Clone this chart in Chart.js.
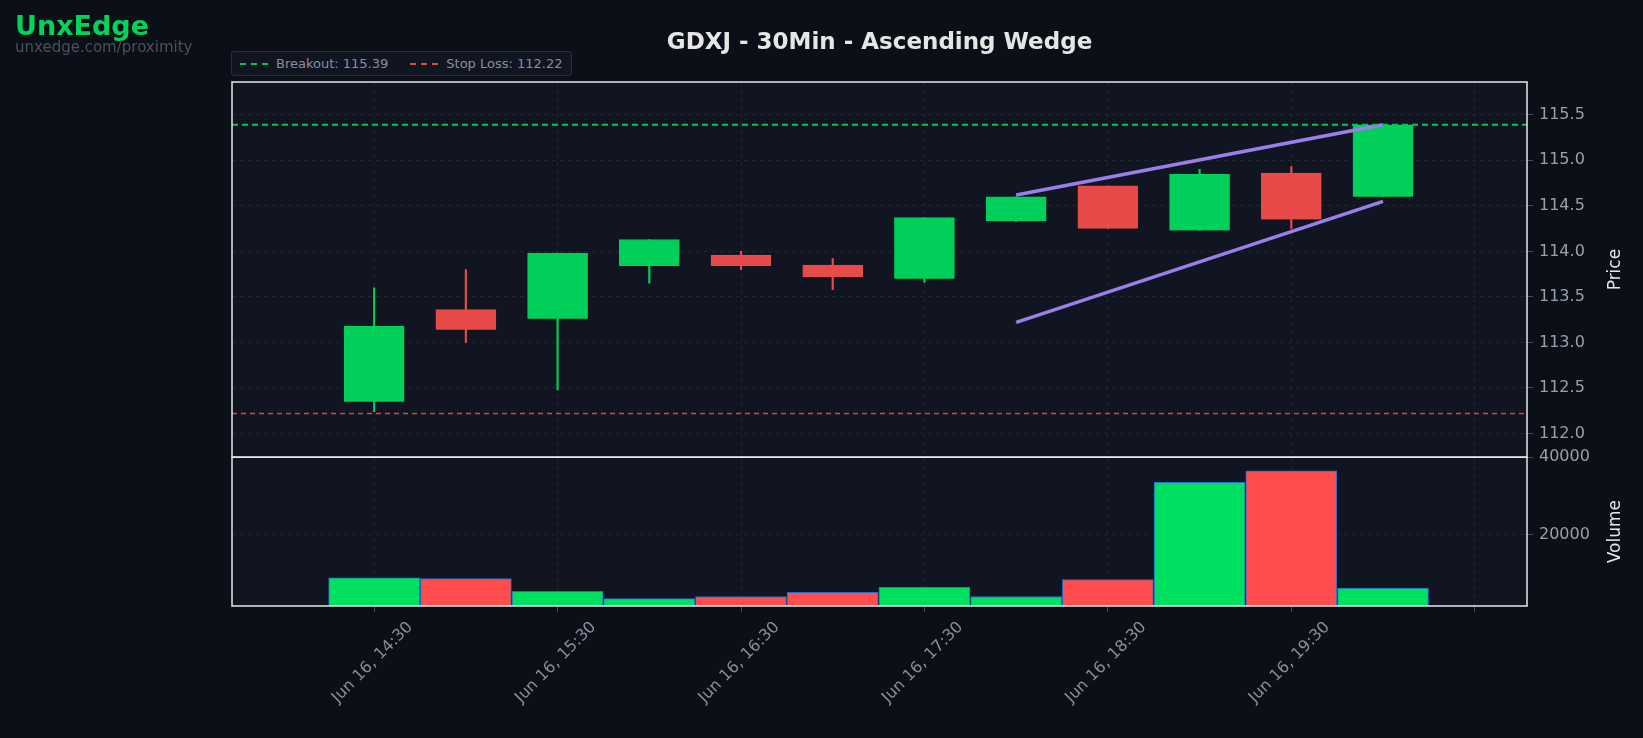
<!DOCTYPE html>
<html>
<head>
<meta charset="utf-8">
<script src="https://cdn.jsdelivr.net/npm/chart.js@4.4.0/dist/chart.umd.min.js"></script>
<style>
  html, body { margin: 0; padding: 0; background: #0b0f18; font-family: "DejaVu Sans", sans-serif; }
  #wrap { position: relative; width: 1643px; height: 738px; }
  #brand { position: absolute; left: 15px; top: 10px; color: #00d45a; font-weight: bold; font-size: 27px; }
  #site { position: absolute; left: 15px; top: 38px; color: #4a505c; font-size: 15px; }
  #title { position: absolute; left: 232px; width: 1295px; top: 28px; text-align: center; color: #e6e6e6; font-weight: bold; font-size: 23px; }
  #legend { position: absolute; left: 231px; top: 51px; background: #111522; border: 1px solid #2a2f3a; border-radius: 3px;
            padding: 4px 8px; color: #8a8f99; font-size: 13px; display: flex; gap: 22px; }
  #legend span { display: inline-flex; align-items: center; gap: 8px; }
  #legend i { display: inline-block; width: 28px; border-top: 2px dashed; }
</style>
</head>
<body>
<div id="wrap">
  <canvas id="Chart" width="1643" height="738"></canvas>
  <div id="brand">UnxEdge</div>
  <div id="site">unxedge.com/proximity</div>
  <div id="title">GDXJ - 30Min - Ascending Wedge</div>
  <div id="legend">
    <span><i style="border-color:#00c853"></i>Breakout: 115.39</span>
    <span><i style="border-color:#e04848"></i>Stop Loss: 112.22</span>
  </div>
</div>
<script>
var times = ['Jun 16, 14:30', 'Jun 16, 15:00', 'Jun 16, 15:30', 'Jun 16, 16:00', 'Jun 16, 16:30', 'Jun 16, 17:00',
             'Jun 16, 17:30', 'Jun 16, 18:00', 'Jun 16, 18:30', 'Jun 16, 19:00', 'Jun 16, 19:30', 'Jun 16, 20:00'];
var opens  = [112.35, 113.36, 113.26, 113.84, 113.96, 113.85, 113.70, 114.33, 114.72, 114.23, 114.86, 114.60];
var closes = [113.18, 113.14, 113.98, 114.13, 113.84, 113.72, 114.37, 114.60, 114.25, 114.85, 114.35, 115.39];
var highs  = [113.60, 113.80, 113.98, 114.13, 114.00, 113.92, 114.37, 114.60, 114.72, 114.90, 114.93, 115.39];
var lows   = [112.24, 113.00, 112.48, 113.65, 113.80, 113.58, 113.66, 114.33, 114.25, 114.23, 114.25, 114.60];
var volumes = [8900, 8650, 5400, 3500, 4050, 5100, 6500, 4050, 8400, 33500, 36500, 6200];
var tickLabels = ['Jun 16, 14:30', 'Jun 16, 15:30', 'Jun 16, 16:30', 'Jun 16, 17:30', 'Jun 16, 18:30', 'Jun 16, 19:30', ''];
var priceTicks = [112.0, 112.5, 113.0, 113.5, 114.0, 114.5, 115.0, 115.5];
var volumeTicks = [20000, 40000];
var breakout = 115.39;
var stopLoss = 112.22;
var upperWedge = [[7, 114.62], [11, 115.39]];
var lowerWedge = [[7, 113.22], [11, 114.55]];

var GREEN = '#00d05a', RED = '#e84a4a';
var X_MIN = -1.55, X_MAX = 12.57;

(function () {
    var idx = opens.map((o, i) => i);
    var candleColor = idx.map((i) => closes[i] >= opens[i] ? GREEN : RED);
    var volColor = idx.map((i) => closes[i] >= opens[i] ? '#00e060' : '#ff4d4d');

    var datasets = [
        {
            type: 'line', data: [{x: X_MIN, y: breakout}, {x: X_MAX, y: breakout}], borderColor: '#00c853',
            borderWidth: 2, borderDash: [6, 4], pointRadius: 0, yAxisID: 'y'
        },
        {
            type: 'line', data: [{x: X_MIN, y: stopLoss}, {x: X_MAX, y: stopLoss}], borderColor: '#d9434a',
            borderWidth: 1.5, borderDash: [5, 4], pointRadius: 0, yAxisID: 'y'
        },
        {
            type: 'bar', data: idx.map((i) => ({x: i, y: [lows[i], highs[i]]})), backgroundColor: candleColor,
            barThickness: 1.5, grouped: false, yAxisID: 'y', order: 2
        },
        {
            type: 'bar', data: idx.map((i) => ({x: i, y: [opens[i], closes[i]]})), backgroundColor: candleColor,
            borderColor: candleColor, borderWidth: 1, barThickness: 60, grouped: false, yAxisID: 'y', order: 1
        },
        {
            type: 'line', data: upperWedge.map((p) => ({x: p[0], y: p[1]})), borderColor: '#9a7fe8',
            borderWidth: 3.5, pointRadius: 0, yAxisID: 'y', order: 0
        },
        {
            type: 'line', data: lowerWedge.map((p) => ({x: p[0], y: p[1]})), borderColor: '#9a7fe8',
            borderWidth: 3.5, pointRadius: 0, yAxisID: 'y', order: 0
        },
        {
            type: 'bar', data: idx.map((i) => ({x: i, y: volumes[i]})), backgroundColor: volColor,
            borderColor: '#1f6fd0', borderWidth: 1, barThickness: 91, grouped: false, yAxisID: 'yv'
        }
    ];

    var grid = { color: 'rgba(255,255,255,0.07)', tickColor: 'rgba(255,255,255,0.25)', tickLength: 6 };
    var tickFont = { family: 'DejaVu Sans', size: 16 };

    var panels = {
        id: 'panels',
        beforeDraw(chart) {
            var c = chart.ctx, a = chart.chartArea;
            c.save();
            c.fillStyle = '#111522';
            c.fillRect(a.left, a.top, a.right - a.left, a.bottom - a.top);
            c.restore();
        },
        afterDraw(chart) {
            var c = chart.ctx, a = chart.chartArea, y = chart.scales.y, v = chart.scales.yv;
            c.save();
            c.strokeStyle = '#e8e8e8';
            c.lineWidth = 1.5;
            c.strokeRect(a.left, y.top, a.right - a.left, y.bottom - y.top);
            c.strokeRect(a.left, v.top, a.right - a.left, v.bottom - v.top);
            c.fillStyle = '#e6e6e6';
            c.font = '17px "DejaVu Sans"';
            c.textAlign = 'center';
            c.textBaseline = 'middle';
            [[y, 'Price'], [v, 'Volume']].forEach(([s, t]) => {
                c.save();
                c.translate(1616, (s.top + s.bottom) / 2);
                c.rotate(-Math.PI / 2);
                c.fillText(t, 0, 0);
                c.restore();
            });
            c.restore();
        }
    };

    new Chart(document.getElementById('Chart').getContext('2d'), {
        data: { datasets },
        plugins: [panels],
        options: {
            responsive: false,
            animation: false,
            layout: { padding: { left: 232, top: 82, right: 0, bottom: 0 } },
            plugins: { legend: { display: false }, tooltip: { enabled: false } },
            scales: {
                x: {
                    type: 'linear', min: X_MIN, max: X_MAX, offset: false,
                    grid: { ...grid, offset: false },
                    border: { display: false, dash: [4, 4] },
                    afterBuildTicks: (s) => { s.ticks = [0, 2, 4, 6, 8, 10, 12].map((v) => ({value: v})); },
                    afterFit: (s) => { s.height = 132; },
                    ticks: {
                        color: '#8a8f99', font: tickFont, minRotation: 45, maxRotation: 45, labelOffset: 36, padding: 6,
                        callback: (v) => tickLabels[v / 2]
                    }
                },
                y: {
                    position: 'right', stack: 'main', stackWeight: 358, offset: false,
                    min: 111.74, max: 115.86,
                    grid: grid,
                    border: { display: false, dash: [4, 4] },
                    afterBuildTicks: (s) => { s.ticks = priceTicks.map((v) => ({value: v})); },
                    afterFit: (s) => { s.width = 116; },
                    ticks: { color: '#9aa0aa', font: tickFont, padding: 6, callback: (v) => v.toFixed(1) }
                },
                yv: {
                    position: 'right', stack: 'main', stackWeight: 142, offset: false,
                    min: 1600, max: 40000,
                    grid: grid,
                    border: { display: false, dash: [4, 4] },
                    afterBuildTicks: (s) => { s.ticks = volumeTicks.map((v) => ({value: v})); },
                    afterFit: (s) => { s.width = 116; },
                    ticks: { color: '#9aa0aa', font: tickFont, padding: 6, callback: (v) => String(v) }
                }
            }
        }
    });
})();
</script>
</body>
</html>
